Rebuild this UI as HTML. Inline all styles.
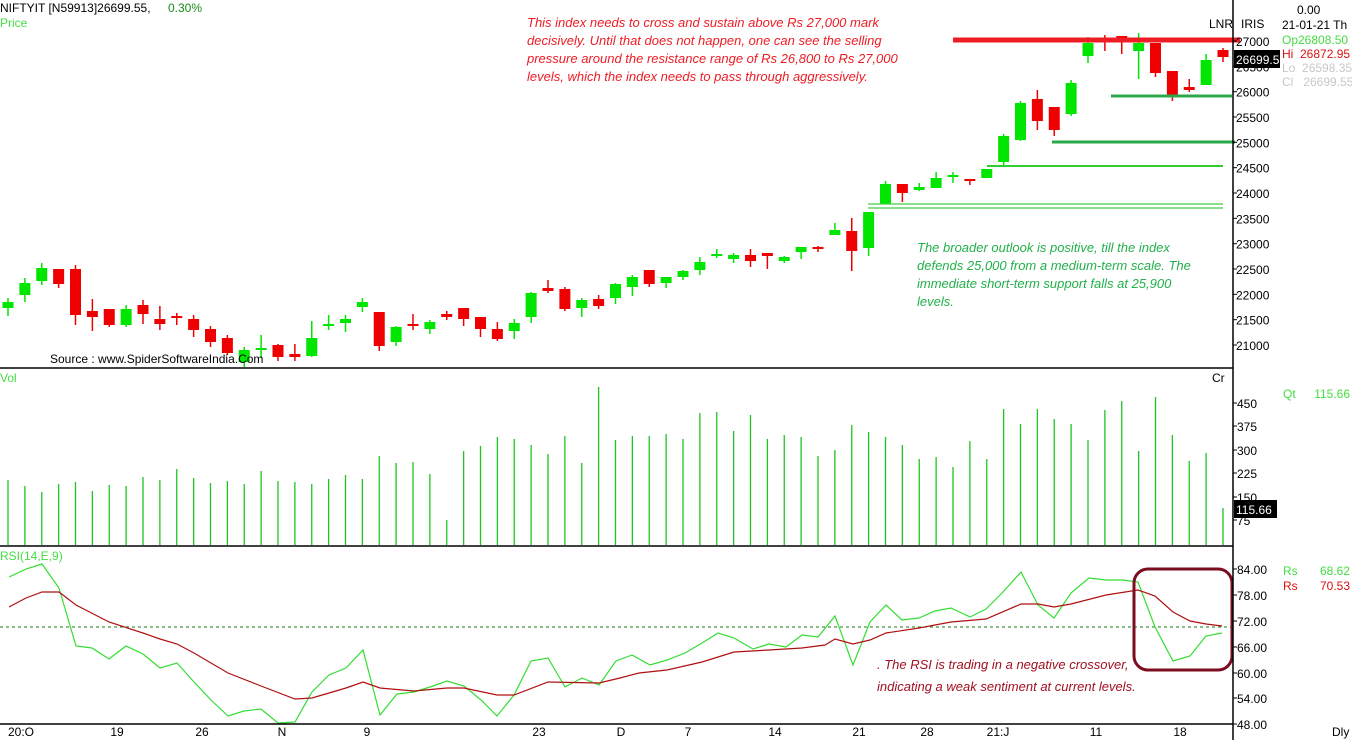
<!DOCTYPE html>
<html><head><meta charset="utf-8"><style>
html,body{margin:0;padding:0;background:#fff;width:1352px;height:740px;overflow:hidden}
svg{display:block}
text{font-family:"Liberation Sans",sans-serif;font-size:12px}
.an{font-style:italic;font-size:13px}
</style></head><body>
<svg id="s" width="1352" height="740" viewBox="0 0 1352 740" xmlns="http://www.w3.org/2000/svg">
<rect width="1352" height="740" fill="#fff"/>
<g id="cd"></g>
<g id="vol"></g>
<line x1="0" y1="627" x2="1233" y2="627" stroke="#1a7a1a" stroke-width="1" stroke-dasharray="3,3"/>
<polyline id="rg" fill="none" stroke="#33dd33" stroke-width="1.2"/>
<polyline id="rr" fill="none" stroke="#b01010" stroke-width="1.2"/>
<!-- support/resistance -->
<line x1="953" y1="40" x2="1240" y2="40" stroke="#ee1c24" stroke-width="5"/>
<line x1="1111" y1="96" x2="1232" y2="96" stroke="#2aa84a" stroke-width="3"/>
<line x1="1052" y1="142" x2="1235" y2="142" stroke="#2aa84a" stroke-width="3"/>
<line x1="987" y1="166" x2="1223" y2="166" stroke="#33cc33" stroke-width="2"/>
<line x1="868" y1="204" x2="1223" y2="204" stroke="#44cc44" stroke-width="1.2"/>
<line x1="868" y1="208" x2="1223" y2="208" stroke="#44cc44" stroke-width="1.2"/>
<rect x="1134" y="569" width="98" height="101" rx="14" fill="none" stroke="#7b0d1e" stroke-width="3"/>
<!-- frame -->
<line x1="1233" y1="0" x2="1233" y2="740" stroke="#000" stroke-width="1.5"/>
<line x1="0" y1="368" x2="1233" y2="368" stroke="#000" stroke-width="1.5"/>
<line x1="0" y1="546" x2="1233" y2="546" stroke="#000" stroke-width="1.5"/>
<line x1="0" y1="724" x2="1233" y2="724" stroke="#000" stroke-width="1.5"/>
<g id="ax"></g>
<!-- header -->
<text x="0" y="12">NIFTYIT [N59913]26699.55,</text>
<text x="168" y="12" fill="#1a8a1a">0.30%</text>
<text x="0" y="27" fill="#44dd44">Price</text>
<text x="50" y="363" fill="#000">Source : www.SpiderSoftwareIndia.Com</text>
<text x="1209" y="28">LNR</text>
<text x="1241" y="28">IRIS</text>
<text x="1297" y="14">0.00</text>
<text x="1282" y="29">21-01-21 Th</text>
<text x="1282" y="44" fill="#44dd44">Op26808.50</text>
<text x="1282" y="58" fill="#dd1111">Hi&#160; 26872.95</text>
<text x="1282" y="72" fill="#c8c8c8">Lo&#160; 26598.35</text>
<text x="1282" y="86" fill="#c8c8c8">Cl&#160;&#160; 26699.55</text>
<rect x="1234" y="50" width="46" height="18" fill="#000"/>
<text x="1236" y="64" fill="#fff">26699.5</text>
<text x="0" y="382" fill="#44dd44">Vol</text>
<text x="1212" y="382">Cr</text>
<text x="1283" y="398" fill="#44dd44">Qt</text>
<text x="1350" y="398" fill="#44dd44" text-anchor="end">115.66</text>
<rect x="1234" y="500" width="43" height="18" fill="#000"/>
<text x="1236" y="514" fill="#fff">115.66</text>
<text x="0" y="560" fill="#44dd44">RSI(14,E,9)</text>
<text x="1283" y="575" fill="#44dd44">Rs</text>
<text x="1350" y="575" fill="#44dd44" text-anchor="end">68.62</text>
<text x="1283" y="590" fill="#dd1111">Rs</text>
<text x="1350" y="590" fill="#dd1111" text-anchor="end">70.53</text>
<text x="1332" y="736">Dly</text>
<!-- annotations -->
<g class="an" fill="#ee1c24">
<text class="an" x="527" y="27">This index needs to cross and sustain above Rs 27,000 mark</text>
<text class="an" x="527" y="45">decisively. Until that does not happen, one can see the selling</text>
<text class="an" x="527" y="63">pressure around the resistance range of Rs 26,800 to Rs 27,000</text>
<text class="an" x="527" y="81">levels, which the index needs to pass through aggressively.</text>
</g>
<g fill="#22b04a">
<text class="an" x="917" y="252">The broader outlook is positive, till the index</text>
<text class="an" x="917" y="270">defends 25,000 from a medium-term scale. The</text>
<text class="an" x="917" y="288">immediate short-term support falls at 25,900</text>
<text class="an" x="917" y="306">levels.</text>
</g>
<g fill="#a01020">
<text class="an" x="877" y="669">. The RSI is trading in a negative crossover,</text>
<text class="an" x="877" y="691">indicating a weak sentiment at current levels.</text>
</g>
</svg>
<script>
var NS="http://www.w3.org/2000/svg";
function el(p,t,a,txt){var e=document.createElementNS(NS,t);for(var k in a)e.setAttribute(k,a[k]);if(txt!=null)e.textContent=txt;p.appendChild(e);return e;}
var C=[["g",302,308,298,316],["g",283,295,278,302],["g",268,281,263,285],["r",269,284,269,288],["r",269,315,265,325],["r",311,317,299,331],["r",309,325,309,327],["g",309,325,305,327],["r",305,314,300,324],["r",319,324,306,330],["r",316,317,313,325],["r",319,330,315,337],["r",329,342,326,347],["r",338,353,335,355],["g",350,362,347,367],["g",348,349,335,358],["r",345,357,344,361],["r",354,357,344,361],["g",338,356,321,357],["g",324,325,315,330],["g",319,323,315,332],["g",302,307,298,312],["r",312,346,312,351],["g",327,342,326,346],["r",324,326,314,330],["g",322,329,320,334],["r",314,317,311,320],["r",308,319,308,326],["r",317,329,317,337],["r",329,339,322,341],["g",323,331,319,339],["g",293,317,292,323],["r",288,291,280,293],["r",289,309,287,311],["g",300,308,298,317],["r",299,306,295,309],["g",284,298,283,304],["g",277,287,275,296],["r",270,284,270,287],["g",277,283,277,288],["g",271,277,270,280],["g",262,270,257,275],["g",254,255,249,258],["g",255,259,253,263],["r",255,261,249,267],["r",253,256,253,269],["g",257,261,256,263],["g",247,252,247,259],["r",247,249,246,252],["g",230,235,223,235],["r",231,251,218,271],["g",212,248,212,256],["g",184,204,181,204],["r",184,193,184,202],["g",187,190,183,191],["g",178,188,172,188],["g",175,176,172,183],["r",179,180,179,185],["g",169,178,169,178],["g",136,162,134,166],["g",103,140,101,141],["r",99,121,90,130],["r",107,130,107,136],["g",83,114,80,116],["g",43,56,37,63],["r",40,41,35,51],["r",36,40,36,54],["g",43,51,33,79],["r",43,73,43,77],["r",71,96,71,101],["r",87,90,79,92],["g",60,85,54,85],["r",50,57,48,62]];
var V=[480,486,492,484,482,491,485,486,477,480,469,478,483,481,484,471,481,482,484,479,475,479,456,463,462,474,520,451,446,437,439,445,454,436,463,387,440,436,436,434,439,413,412,431,415,439,435,437,456,450,425,432,437,445,459,457,467,441,459,409,424,409,419,424,440,410,401,451,397,435,461,453,508];
var cd=document.getElementById("cd"),vg=document.getElementById("vol");
C.forEach(function(c,i){var x=8+i*16.875,col=c[0]=="g"?"#00e600":"#ee0000";
el(cd,"line",{x1:x,y1:c[3],x2:x,y2:c[4],stroke:col,"stroke-width":1.5});
var h=Math.max(c[2]-c[1],2);el(cd,"rect",{x:x-5.5,y:c[1],width:11,height:h,fill:col});
el(vg,"line",{x1:x,y1:V[i],x2:x,y2:545,stroke:"#22c322","stroke-width":1.3});});
var G=[[9,577],[26,569],[42,564],[59,588],[76,646],[92,648],[109,659],[126,646],[143,654],[160,668],[177,663],[194,682],[211,700],[228,716],[244,711],[261,709],[278,723],[295,722],[312,692],[329,675],[346,668],[363,650],[380,715],[397,694],[414,692],[430,687],[447,681],[464,686],[481,700],[497,716],[514,695],[531,661],[548,658],[565,687],[582,678],[599,685],[616,661],[632,655],[650,665],[667,660],[685,653],[702,643],[718,633],[734,638],[753,649],[769,644],[786,647],[802,635],[818,637],[835,616],[853,665],[870,622],[886,605],[902,620],[919,618],[935,611],[951,608],[970,617],[986,609],[1003,592],[1021,572],[1038,605],[1054,618],[1071,593],[1089,578],[1106,580],[1122,580],[1138,582],[1155,627],[1173,661],[1190,656],[1206,636],[1222,633]];
var R=[[9,607],[26,598],[42,592],[59,592],[76,605],[109,622],[143,633],[160,639],[177,644],[194,653],[228,673],[261,686],[295,699],[312,698],[346,688],[363,682],[380,688],[414,691],[447,688],[464,688],[497,695],[514,695],[548,682],[599,683],[620,678],[639,673],[667,670],[702,662],[734,652],[769,650],[802,648],[825,645],[835,639],[853,644],[870,640],[886,633],[919,628],[951,622],[986,619],[1021,604],[1038,604],[1054,607],[1071,604],[1106,595],[1138,590],[1155,596],[1173,612],[1190,621],[1206,624],[1222,626]];
document.getElementById("rg").setAttribute("points",G.map(function(p){return p.join(",")}).join(" "));
document.getElementById("rr").setAttribute("points",R.map(function(p){return p.join(",")}).join(" "));
var ax=document.getElementById("ax");
for(var p=27000;p>=21000;p-=500){var y=41+(27000-p)*0.05067;el(ax,"line",{x1:1233,y1:y,x2:1237,y2:y,stroke:"#000"});el(ax,"text",{x:1236,y:y+5},String(p));}
[[450,403],[375,426],[300,450],[225,473],[150,497],[75,520]].forEach(function(a){el(ax,"line",{x1:1233,y1:a[1],x2:1237,y2:a[1],stroke:"#000"});el(ax,"text",{x:1237,y:a[1]+5},String(a[0]));});
[["84.00",569],["78.00",595],["72.00",621],["66.00",647],["60.00",673],["54.00",698],["48.00",724]].forEach(function(a){el(ax,"line",{x1:1233,y1:a[1],x2:1237,y2:a[1],stroke:"#000"});el(ax,"text",{x:1237,y:a[1]+5},a[0]);});
[["20:O",8,"start"],["19",117],["26",202],["N",282],["9",367],["23",539],["D",621],["7",688],["14",775],["21",859],["28",927],["21:J",998],["11",1096],["18",1180]].forEach(function(a){el(ax,"text",{x:a[1],y:736,"text-anchor":a[2]||"middle"},a[0]);});
</script>
</body></html>
